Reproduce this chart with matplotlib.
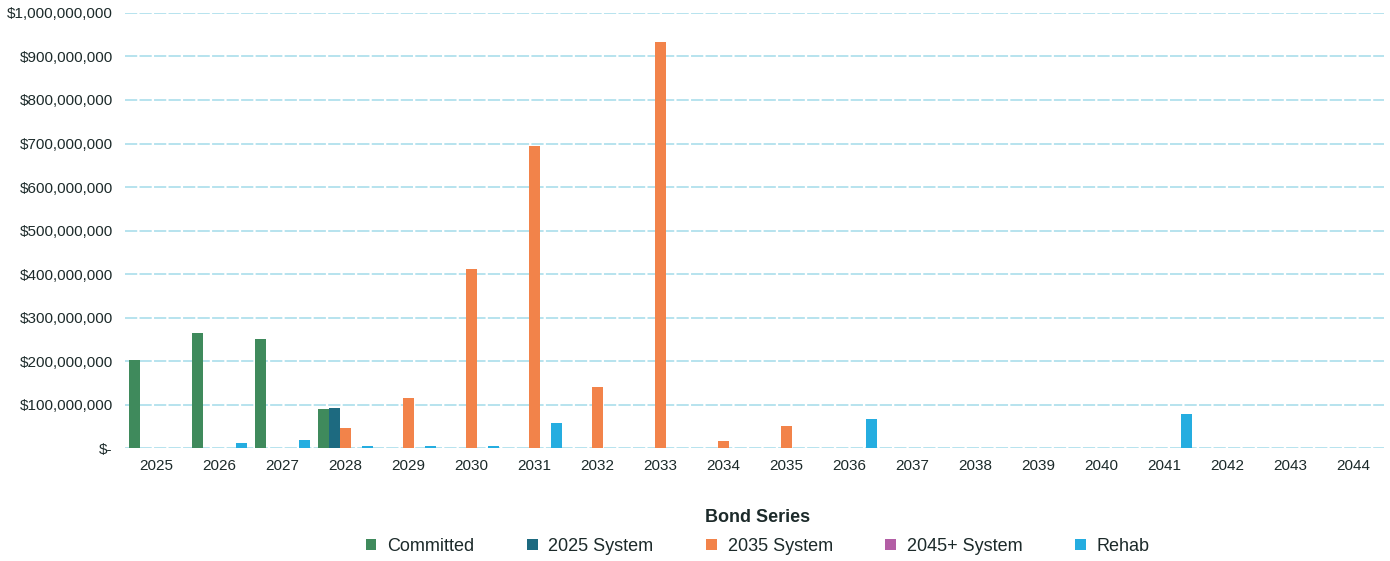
import numpy as np
import matplotlib.pyplot as plt
from matplotlib.ticker import FuncFormatter

plt.rcParams['font.family'] = ['Liberation Sans', 'DejaVu Sans']

years = [str(y) for y in range(2025, 2045)]

# values in dollars
committed = [202e6, 264e6, 250e6, 90e6, 0, 0, 0, 0, 0, 0,
             0, 0, 0, 0, 0, 0, 0, 0, 0, 0]
system_2025 = [0, 0, 0, 93e6, 0, 0, 0, 0, 0, 0,
               0, 0, 0, 0, 0, 0, 0, 0, 0, 0]
system_2035 = [0, 0, 0, 47e6, 115e6, 411e6, 695e6, 140e6, 933e6, 16e6,
               52e6, 0, 0, 0, 0, 0, 0, 0, 0, 0]
system_2045 = [0, 0, 0, 0, 0, 0, 0, 0, 0, 0,
               0, 0, 0, 0, 0, 0, 0, 0, 0, 0]
rehab = [0, 11e6, 18e6, 6e6, 6e6, 5e6, 58e6, 0, 0, 0,
         0, 68e6, 0, 0, 0, 0, 78e6, 0, 0, 0]

series = [
    ('Committed', committed, '#3f8a5c'),
    ('2025 System', system_2025, '#1d6a80'),
    ('2035 System', system_2035, '#f2834a'),
    ('2045+ System', system_2045, '#b35ea5'),
    ('Rehab', rehab, '#25ade0'),
]

fig = plt.figure(figsize=(13.9, 5.61), dpi=100)
ax = fig.add_axes([0.09, 0.201, 0.906, 0.776])

x = np.arange(len(years))
w = 0.175
for i, (name, vals, col) in enumerate(series):
    ax.bar(x + (i - 2) * w, vals, width=w, color=col, label=name, zorder=3)

ax.set_xlim(-0.5, len(years) - 0.5)
ax.set_ylim(0, 1e9)
ax.set_yticks(np.arange(0, 1.01e9, 1e8))
ax.yaxis.set_major_formatter(FuncFormatter(
    lambda v, p: '$-' if v == 0 else '${:,.0f}'.format(v)))
ax.set_xticks(x)
ax.set_xticklabels(years)
ax.tick_params(axis='both', length=0, labelsize=11, colors='#1c2a2a')
ax.tick_params(axis='x', pad=8)
ax.tick_params(axis='y', pad=9)
ax.grid(axis='y', color='#a3dbea', linewidth=1.1, linestyle=(0, (8, 1.5)), zorder=0)
for s in ax.spines.values():
    s.set_visible(False)

leg = fig.legend(loc='lower center', bbox_to_anchor=(0.545, -0.018), ncol=5,
                 frameon=False, title='Bond Series', fontsize=13,
                 title_fontproperties={'weight': 'bold', 'size': 13},
                 handlelength=0.6, handleheight=0.6, columnspacing=2.9,
                 handletextpad=0.6, labelspacing=0.65)
leg.get_title().set_color('#1c2a2a')
for t in leg.get_texts():
    t.set_color('#1c2a2a')

plt.savefig('out.png', dpi=100)
